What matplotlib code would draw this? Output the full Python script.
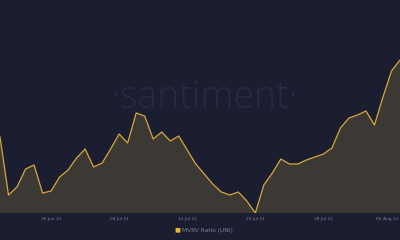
import matplotlib
matplotlib.use("Agg")
import matplotlib.pyplot as plt
import matplotlib.dates as mdates
import matplotlib.transforms as mtrans
import numpy as np
import pandas as pd

# daily MVRV ratio for UNI
dates = pd.date_range("2021-06-20", "2021-08-06", freq="D")
mvrv = [0.852, 0.736, 0.752, 0.788, 0.796, 0.740, 0.744, 0.772, 0.786, 0.810,
        0.828, 0.792, 0.800, 0.828, 0.858, 0.840, 0.900, 0.894, 0.848, 0.862,
        0.844, 0.854, 0.826, 0.798, 0.778, 0.758, 0.742, 0.736, 0.742, 0.724,
        0.700, 0.756, 0.780, 0.808, 0.798, 0.798, 0.806, 0.812, 0.818, 0.830,
        0.870, 0.890, 0.896, 0.904, 0.876, 0.932, 0.984, 1.006]
tick_dates = pd.to_datetime(["2021-06-26", "2021-07-04", "2021-07-12",
                             "2021-07-20", "2021-07-28", "2021-08-05"])
series_label = "MVRV Ratio (UNI)"

bg = "#1b1e31"
line_col = "#d6a83a"
fill_col = "#3c3834"
text_col = "#7d8196"

fig = plt.figure(figsize=(4, 2.4), dpi=100, facecolor=bg)
ax = fig.add_axes([0, 0.1125, 1, 0.8875])
ax.set_facecolor(bg)

ax.fill_between(dates, mvrv, 0, color=fill_col, lw=0)
ax.plot(dates, mvrv, color=line_col, lw=0.9)

ax.set_xlim(dates[0], dates[-1])
ax.set_ylim(0.70, 1.126)
ax.set_yticks([])
ax.set_xticks(tick_dates)
ax.xaxis.set_major_formatter(mdates.DateFormatter("%d %b %y"))
ax.tick_params(axis="x", length=0, pad=3, labelsize=3.2, labelcolor=text_col)
for s in ax.spines.values():
    s.set_visible(False)

# last date label sits against the right edge
last = ax.get_xticklabels()[-1]
last.set_horizontalalignment("right")
last.set_transform(last.get_transform() + mtrans.ScaledTranslation(0.07, 0, fig.dpi_scale_trans))

# watermark
ax.text(0.51, 0.54, "\u00b7santiment\u00b7", transform=ax.transAxes, ha="center",
        va="center", fontsize=27, color="#272b40", family="Open Sans",
        fontweight="light", zorder=0)

# legend
fig.text(0.443, 0.04, "\u25a0", color="#f2b62c", fontsize=4.5, ha="center", va="center")
fig.text(0.455, 0.04, series_label, color=text_col, fontsize=4.2, ha="left", va="center")

fig.savefig("out.png", dpi=100, facecolor=bg)
